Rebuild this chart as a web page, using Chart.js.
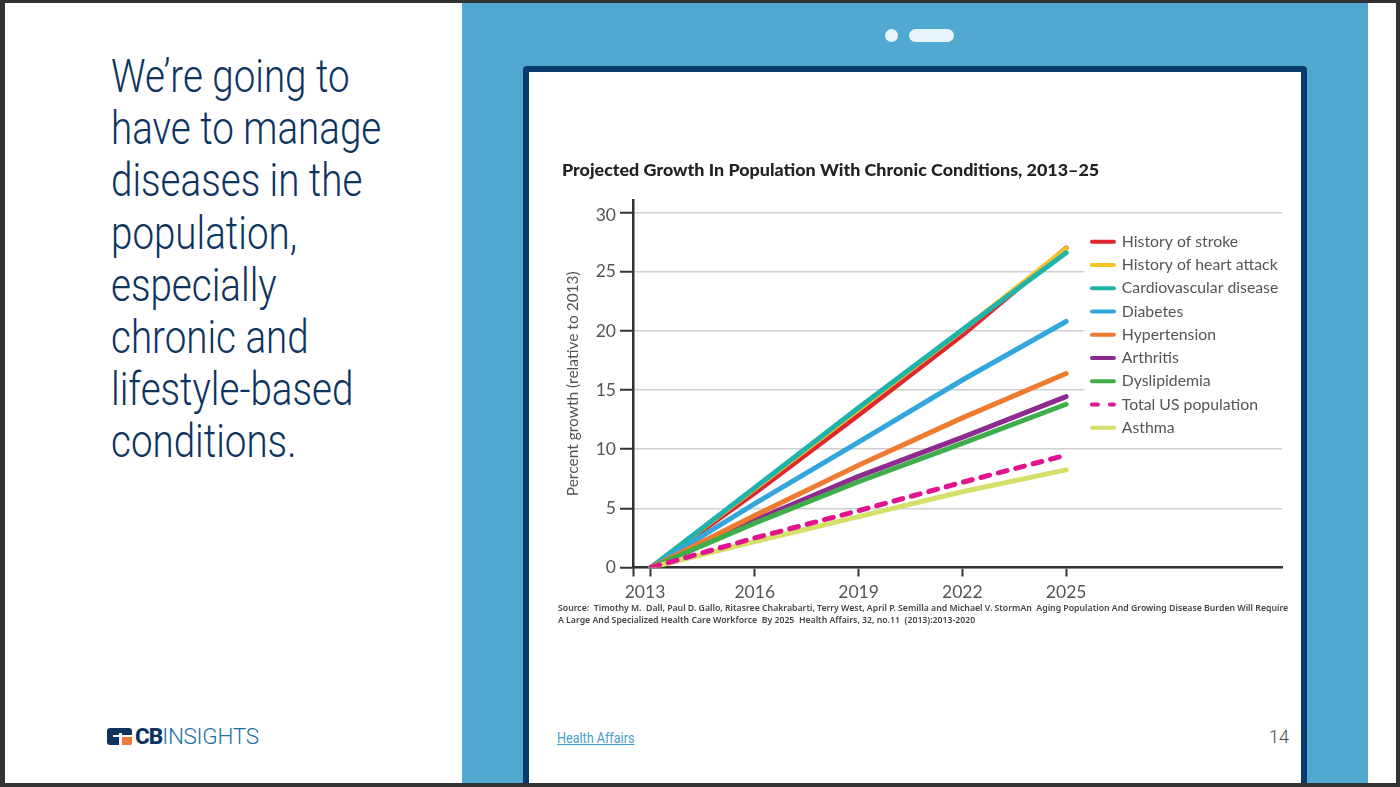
<!DOCTYPE html>
<html><head><meta charset="utf-8">
<script src="https://cdn.jsdelivr.net/npm/chart.js@4"></script>
<style>
html,body{margin:0;padding:0;width:1400px;height:787px;overflow:hidden;background:#fff;font-family:Roboto,sans-serif}
.abs{position:absolute}
#frame{left:0;top:0;width:1400px;height:787px;box-sizing:border-box;border:solid #333;border-width:3px 4px 4px 5px;z-index:9;pointer-events:none}
#panel{left:462px;top:0;width:906px;height:787px;background:#4fa9d0}
#tablet{left:523px;top:66px;width:784px;height:730px;box-sizing:border-box;background:#fff;border:6px solid #0b3a6b;border-radius:4px}
#dot{left:885px;top:29px;width:13px;height:13px;border-radius:50%;background:#eaf5fb}
#pill{left:909px;top:29px;width:45px;height:13px;border-radius:7px;background:#eaf5fb}
#head{left:111px;top:50px;font-weight:300;font-size:46px;line-height:52.2px;color:#0d3461;transform:scaleX(.838);transform-origin:0 0;white-space:nowrap}
#src{left:558px;top:602px;font:600 9.2px/12px "Noto Sans",sans-serif;color:#444;white-space:nowrap;transform:scaleX(.948);transform-origin:0 0}
#link{left:557px;top:730px;font-size:14px;color:#3f9fc8;text-decoration:underline;transform:scaleX(.9);transform-origin:0 0;white-space:nowrap}
#page{left:1269px;top:726px;font-weight:300;font-size:18px;color:#444}
#logoA{left:107px;top:728px;width:25px;height:17px;background:#0d3461;border-radius:3px}
#logoB{left:121px;top:737px;width:11px;height:8px;background:#ee7a3a;border-radius:0 0 3px 0}
#logoC{left:119px;top:733px;width:3px;height:12px;background:#fff}
#logoD{left:113px;top:735px;width:19px;height:2px;background:#fff}
#logoT{left:135px;top:723px;font-size:22.5px;line-height:27px;color:#0d3461;font-weight:800;letter-spacing:-1px;white-space:nowrap}
#logoT span{font-weight:300;color:#1d6f9e;letter-spacing:-.3px}
#c{position:absolute;left:540px;top:150px}
</style></head>
<body>
<div class="abs" id="panel"></div>
<div class="abs" id="tablet"></div>
<div class="abs" id="dot"></div><div class="abs" id="pill"></div>
<div class="abs" id="head">We’re going to<br>have to manage<br>diseases in the<br>population,<br>especially<br>chronic and<br>lifestyle-based<br>conditions.</div>
<div class="abs" id="logoA"></div><div class="abs" id="logoB"></div><div class="abs" id="logoC"></div><div class="abs" id="logoD"></div>
<div class="abs" id="logoT">CB<span>INSIGHTS</span></div>
<canvas id="c" width="760" height="490" style="width:760px;height:490px"></canvas>
<div class="abs" id="src">Source: &nbsp;Timothy M. &nbsp;Dall, Paul D. Gallo, Ritasree Chakrabarti, Terry West, April P. Semilla and Michael V. StormAn &nbsp;Aging Population And Growing Disease Burden Will Require<br>A Large And Specialized Health Care Workforce &nbsp;By 2025 &nbsp;Health Affairs, 32, no.11 &nbsp;(2013):2013-2020</div>
<a class="abs" id="link">Health Affairs</a>
<div class="abs" id="page">14</div>
<div class="abs" id="frame"></div>
<script>
const years = [2013, 2016, 2019, 2022, 2025];
const yTicks = [0, 5, 10, 15, 20, 25, 30];
const seriesNames = ["History of stroke","History of heart attack","Cardiovascular disease","Diabetes","Hypertension","Arthritis","Dyslipidemia","Total US population","Asthma"];
const stroke       = [0, 6.3, 12.9, 19.65, 27.0];
const heartAttack  = [0, 6.65, 13.35, 20.05, 26.95];
const cardio       = [0, 6.75, 13.5, 20.1, 26.6];
const diabetes     = [0, 5.4, 10.6, 15.85, 20.8];
const hypertension = [0, 4.4, 8.65, 12.65, 16.4];
const arthritis    = [0, 4.0, 7.7, 11.0, 14.45];
const dyslipidemia = [0, 3.75, 7.25, 10.5, 13.8];
const totalPop     = [0, 2.5, 4.8, 7.2, 9.5];
const asthma       = [0, 2.2, 4.3, 6.4, 8.25];
const allSeries = [stroke, heartAttack, cardio, diabetes, hypertension, arthritis, dyslipidemia, totalPop, asthma];
const colors = ["#e0262e","#f6c523","#1fb3ab","#33a6dc","#ee7b30","#8e2b8f","#3fae4a","#e0148c","#d5e06a"];
const stackOrder = [9,8,7,6,4,5,3,1,2];
const xMin = 2012.48, xMax = 2031.24, yMax = 31.07;
const TXT = 'Lato, sans-serif';

const legendPatch = {
  id:'legendPatch',
  afterLayout(chart){
    const l = chart.legend, x = chart.scales.x, y = chart.scales.y;
    const patchBottom = y.getPixelForValue(10.5);
    l.left = x.getPixelForValue(2025.53); l.right = x.right;
    l.top = y.getPixelForValue(28.83); l.bottom = y.getPixelForValue(5);
    if(!l._wrapped){
      const d = l.draw;
      l.draw = function(){
        const c = chart.ctx;
        c.save(); c.fillStyle='#fff';
        c.fillRect(l.left, l.top, l.right-l.left, patchBottom-l.top);
        c.restore();
        d.call(l);
      };
      l._wrapped = true;
    }
  },
  beforeDraw(chart){
    chart.scales.x.getLabelItems().forEach(i=>{
      if(i._moved) return; i._moved=true;
      i.options.translation[0] -= (i.label===String(years[0])) ? 6 : 0;
    });
    chart.scales.y.getLabelItems().forEach(i=>{
      if(i._moved) return; i._moved=true;
      if(i.label===String(yTicks[yTicks.length-1])) i.options.translation[1] += 3;
    });
  }
};

new Chart(document.getElementById('c'), {
  type:'line',
  data:{ datasets: seriesNames.map((n,i)=>({
    label:n,
    data: years.map((yr,k)=>({x:yr,y:allSeries[i][k]})),
    borderColor:colors[i], backgroundColor:colors[i],
    borderWidth:5, borderCapStyle:'round', borderJoinStyle:'round',
    borderDash: n==="Total US population" ? [9,9] : [],
    pointRadius:0, tension:0, fill:false, order:stackOrder[i]
  }))},
  options:{
    responsive:false, animation:false, events:[],
    layout:{padding:{left:22,right:18,top:0,bottom:32.5}},
    plugins:{
      tooltip:{enabled:false},
      title:{display:true, text:"Projected Growth In Population With Chronic Conditions, 2013–25",
        align:'start', color:'#222', font:{family:TXT,size:17.9,weight:'900',lineHeight:1.2}, padding:{top:9,bottom:19.5}},
      legend:{display:true, position:'chartArea', align:'start',
        labels:{usePointStyle:true, pointStyleWidth:22, padding:7.45, color:'#555',
          font:{family:TXT,size:15.8},
          generateLabels(c){ return c.data.datasets.map((d,i)=>({
            text:d.label, fillStyle:d.borderColor, strokeStyle:d.borderColor, fontColor:'#555',
            lineWidth:4, lineCap:'round', lineDash:d.borderDash.length?[6,12]:[], pointStyle:'line', datasetIndex:i, hidden:false }));}
        }}
    },
    scales:{
      x:{type:'linear', min:xMin, max:xMax,
        afterBuildTicks(s){ s.ticks=[xMin,...years].map(v=>({value:v})); },
        afterFit(s){ s.height=40; },
        grid:{drawOnChartArea:false, drawTicks:true, tickLength:9, tickColor:'#333', tickWidth:2},
        border:{color:'#333',width:2.5},
        ticks:{autoSkip:false,maxRotation:0,padding:5,color:'#555',font:{family:TXT,size:17.5},
          callback:v=> years.includes(v)?String(v):''}
      },
      y:{type:'linear', min:0, max:yMax,
        afterBuildTicks(s){ s.ticks=yTicks.map(v=>({value:v})); },
        afterFit(s){ s.width=71; },
        grid:{color:'#cfcfcf',lineWidth:1.5,tickColor:'#333',tickLength:13,tickWidth:2},
        border:{color:'#333',width:2.5},
        ticks:{autoSkip:false,padding:4,color:'#555',font:{family:TXT,size:17.5},callback:v=>String(v)},
        title:{display:true,text:"Percent growth (relative to 2013)",color:'#555',font:{family:TXT,size:15.5},padding:{top:2,bottom:0}}
      }
    }
  },
  plugins:[legendPatch]
});
</script>
</body></html>
